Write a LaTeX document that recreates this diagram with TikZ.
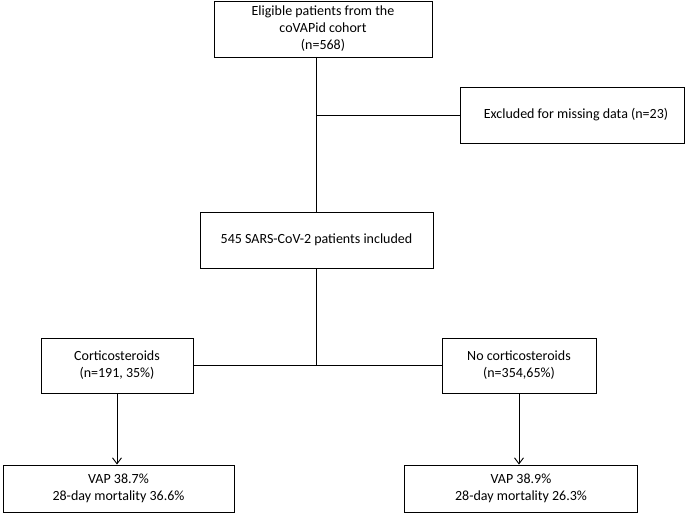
\documentclass[tikz,border=0pt]{standalone}
\usepackage{fontspec}
\setmainfont{Carlito}
\usetikzlibrary{arrows.meta}
\begin{document}
\begin{tikzpicture}[x=1pt,y=-1pt,
  bx/.style={draw,line width=0.9pt,inner sep=0pt,font=\fontsize{14}{17}\selectfont,align=center},
  ln/.style={line width=0.9pt},
  ar/.style={ln,-{Straight Barb[length=6pt,width=9pt]}}]
\useasboundingbox (0,0) rectangle (685,513);
\node[bx,minimum width=218,minimum height=56] (top) at (323,29) {Eligible patients from the\\coVAPid cohort\\(n=568)};
\node[bx,minimum width=224,minimum height=56] (exc) at (572,115) {\hspace*{8pt}Excluded for missing data (n=23)\hfill};
\node[bx,minimum width=233,minimum height=56] (mid) at (316.5,240) {545 SARS-CoV-2 patients included};
\node[bx,minimum width=152,minimum height=55] (cs) at (117,365.5) {Corticosteroids\\(n=191, 35\%)};
\node[bx,minimum width=154,minimum height=55] (nc) at (519,365.5) {No corticosteroids\\(n=354,65\%)};
\node[bx,minimum width=231,minimum height=47] (v1) at (118.5,488.5) {VAP 38.7\%\\28-day mortality 36.6\%};
\node[bx,minimum width=233,minimum height=47] (v2) at (521,488.5) {VAP 38.9\%\\28-day mortality 26.3\%};
\coordinate (t) at (316,57);
\draw[ln] (t) -- (mid.north -| t);
\coordinate (j1) at (t |- exc.west);
\draw[ln] (j1) -- (exc.west);
\coordinate (j2) at (mid.south |- cs.east);
\draw[ln] (mid.south) -- (j2);
\draw[ln] (cs.east) -- (nc.west);
\draw[ar] (cs.south) -- (cs.south |- v1.north);
\draw[ar] (nc.south) -- (nc.south |- v2.north);
\end{tikzpicture}
\end{document}
